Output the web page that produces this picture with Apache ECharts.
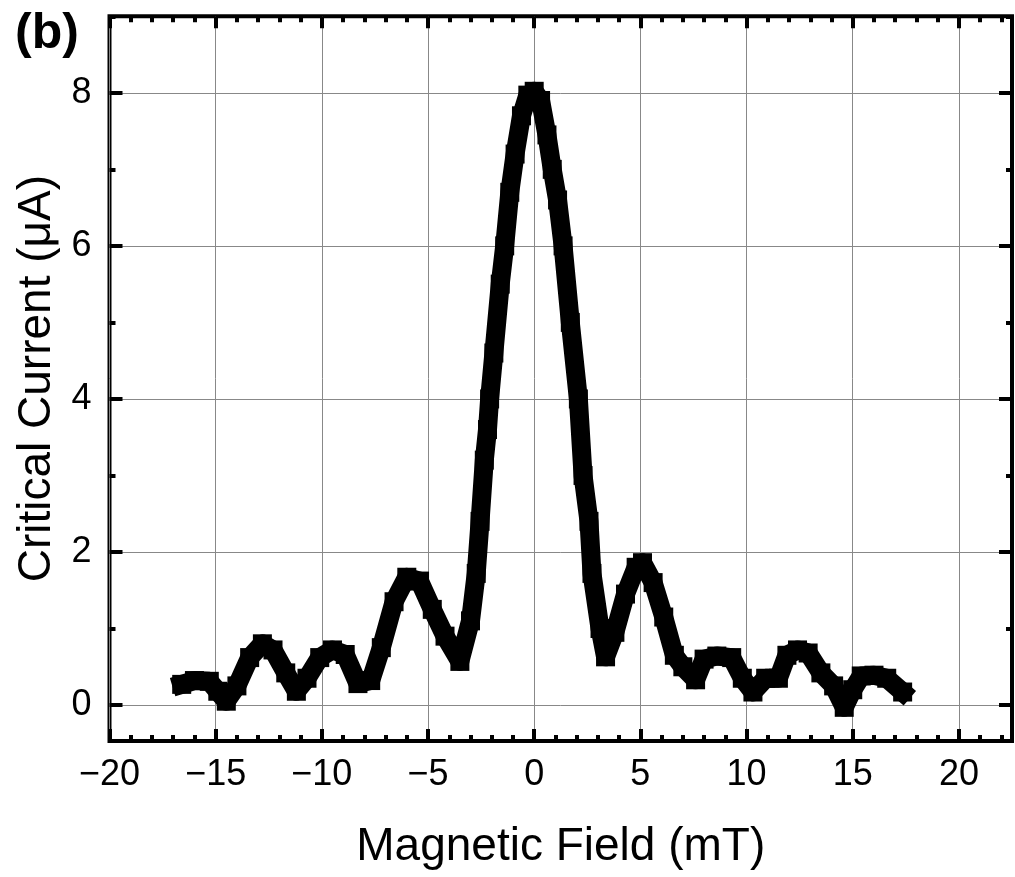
<!DOCTYPE html>
<html>
<head>
<meta charset="utf-8">
<script src="https://cdn.jsdelivr.net/npm/echarts@6/dist/echarts.min.js"></script>
<style>
html,body{margin:0;padding:0;background:#fff;}
#chart{width:1015px;height:877px;}
</style>
</head>
<body>
<div id="chart"></div>
<script>
// ---- data ----
const fieldMT = [-16.6,-16.0,-15.3,-14.9,-14.5,-14.0,-13.4,-12.8,-12.3,-11.7,-11.2,-10.7,-10.1,-9.5,-8.9,-8.3,-7.7,-7.2,-6.6,-6.0,-5.4,-4.8,-4.2,-3.5,-3.0,-2.73,-2.55,-2.35,-2.2,-2.1,-1.9,-1.6,-1.39,-1.15,-0.9,-0.6,-0.3,0.0,0.3,0.6,0.85,1.1,1.36,1.7,2.08,2.3,2.58,2.72,3.1,3.36,3.8,4.3,4.8,5.1,5.6,6.1,6.6,7.0,7.6,8.0,8.6,9.3,9.8,10.3,10.9,11.5,11.9,12.4,12.9,13.5,14.1,14.6,15.0,15.4,16.0,16.6,17.35];
const currentUA = [0.27,0.32,0.31,0.18,0.05,0.25,0.62,0.80,0.72,0.42,0.18,0.35,0.62,0.72,0.66,0.28,0.32,0.75,1.35,1.67,1.62,1.25,0.90,0.57,1.10,1.72,2.40,3.20,3.60,4.00,4.60,5.50,6.00,6.70,7.20,7.70,7.97,8.02,7.90,7.45,7.00,6.60,6.00,5.00,4.00,3.00,2.40,1.72,1.00,0.63,0.95,1.45,1.80,1.86,1.60,1.15,0.65,0.50,0.33,0.60,0.64,0.62,0.35,0.17,0.35,0.35,0.65,0.72,0.68,0.42,0.25,-0.03,0.20,0.38,0.39,0.35,0.17];
const xMajorTicks = [-20,-15,-10,-5,0,5,10,15,20];
const xMinorTicks = [-19,-18,-17,-16,-14,-13,-12,-11,-9,-8,-7,-6,-4,-3,-2,-1,1,2,3,4,6,7,8,9,11,12,13,14,16,17,18,19,21,22];
const yMajorTicks = [0,2,4,6,8];
const yMinorTicks = [1,3,5,7,9];
const xTitle = 'Magnetic Field (mT)';
const yTitle = 'Critical Current (\u03bcA)';
const panelLabel = '(b)';

const FONT = '"Liberation Sans", Arial, sans-serif';
const X_MIN = -20, X_MAX = 22.5, Y_MIN = -0.47, Y_MAX = 9;

const chart = echarts.init(document.getElementById('chart'), null, {renderer: 'canvas'});

function fmt(v){ return v < 0 ? '\u2212' + Math.abs(v) : String(v); }

function xAxisDef(pos, ticks, len, main){
  return {
    type: 'value', position: pos, min: X_MIN, max: X_MAX,
    axisLine: {show: false, onZero: false},
    axisTick: {show: true, inside: true, length: len, customValues: ticks, lineStyle: {color: '#000', width: 4}},
    axisLabel: main ? {show: true, customValues: ticks, formatter: fmt, fontSize: 36, color: '#000', fontFamily: FONT, margin: 16} : {show: false},
    splitLine: main ? {show: true, lineStyle: {color: '#888', width: 1}} : {show: false},
    name: main ? xTitle : '',
    nameLocation: 'middle', nameGap: 83,
    nameTextStyle: {fontSize: 46, color: '#000', fontFamily: FONT}
  };
}
function yAxisDef(pos, ticks, len, main){
  return {
    type: 'value', position: pos, min: Y_MIN, max: Y_MAX,
    axisLine: {show: false, onZero: false},
    axisTick: {show: true, inside: true, length: len, customValues: ticks, lineStyle: {color: '#000', width: 4}},
    axisLabel: main ? {show: true, customValues: ticks, formatter: fmt, fontSize: 36, color: '#000', fontFamily: FONT, margin: 18} : {show: false},
    splitLine: main ? {show: true, lineStyle: {color: '#888', width: 1}} : {show: false},
    name: main ? yTitle : '',
    nameLocation: 'middle', nameGap: 48,
    nameTextStyle: {fontSize: 46, color: '#000', fontFamily: FONT}
  };
}

const option = {
  animation: false,
  backgroundColor: '#fff',
  grid: {left: 109.5, right: 3, top: 16.3, bottom: 136, show: true, borderColor: '#000', borderWidth: 4, backgroundColor: 'transparent'},
  xAxis: [
    xAxisDef('bottom', xMajorTicks, 12, true),
    xAxisDef('bottom', xMinorTicks, 6, false),
    xAxisDef('top', xMajorTicks, 12, false),
    xAxisDef('top', xMinorTicks, 6, false)
  ],
  yAxis: [
    yAxisDef('left', yMajorTicks, 13, true),
    yAxisDef('left', yMinorTicks, 6, false),
    yAxisDef('right', yMajorTicks, 13, false),
    yAxisDef('right', yMinorTicks, 6, false)
  ],
  graphic: [{
    type: 'text', left: 15, top: 9,
    style: {text: panelLabel, fill: '#000', font: 'bold 50px ' + FONT}
  }],
  series: [{
    type: 'line', xAxisIndex: 0, yAxisIndex: 0,
    data: fieldMT.map((x, i) => [x, currentUA[i]]),
    showSymbol: true, symbol: 'rect', symbolSize: 19,
    itemStyle: {color: '#000'},
    lineStyle: {color: '#000', width: 19, join: 'round', cap: 'square'},
    z: 5
  }]
};
chart.setOption(option);
</script>
</body>
</html>
